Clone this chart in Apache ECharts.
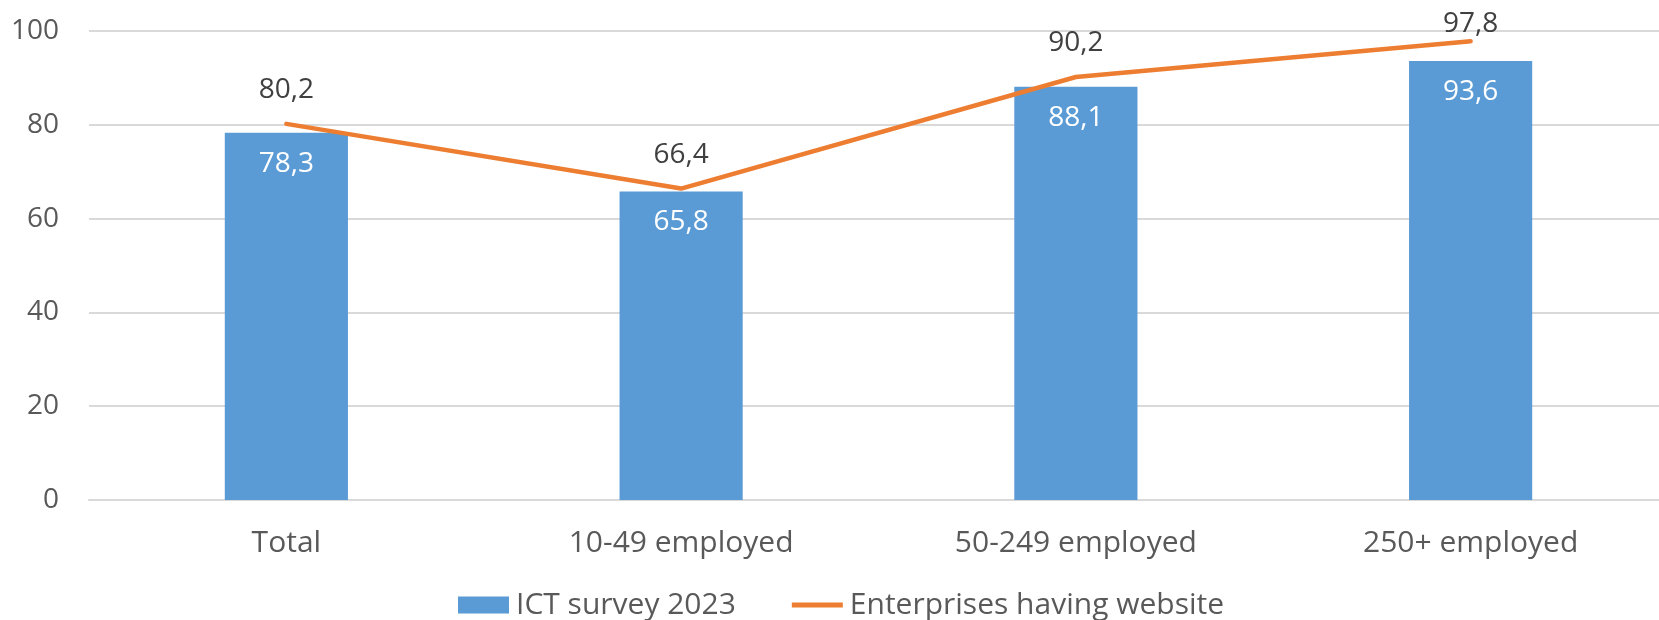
<!DOCTYPE html>
<html>
<head>
<meta charset="utf-8">
<script src="https://cdn.jsdelivr.net/npm/echarts@6/dist/echarts.min.js"></script>
<style>
html,body{margin:0;padding:0;background:#fff;}
#chart{width:1659px;height:620px;}
</style>
</head>
<body>
<div id="chart"></div>
<script>
const categories = ['Total', '10-49 employed', '50-249 employed', '250+ employed'];
const ictSurvey = [78.3, 65.8, 88.1, 93.6];
const websiteShare = [80.2, 66.4, 90.2, 97.8];
const yTicks = [0, 20, 40, 60, 80, 100];

const FONT = '"Open Sans", sans-serif';
const fmt = p => String(p.value).replace('.', ',');

const chart = echarts.init(document.getElementById('chart'), null, {renderer: 'canvas'});
chart.setOption({
  animation: false,
  textStyle: {fontFamily: FONT},
  grid: {left: 89, top: 31, width: 1579, height: 469, containLabel: false, outerBoundsMode: 'none'},
  legend: {
    left: 453, top: 585,
    itemWidth: 51, itemHeight: 17, itemGap: 56,
    textStyle: {fontFamily: FONT, fontSize: 30, color: '#595959', padding: [0, 0, 0, 2]},
    data: [
      {name: 'ICT survey 2023', icon: 'rect'},
      {name: 'Enterprises having website', icon: 'path://M0,0L52,0L52,5L0,5Z'}
    ]
  },
  xAxis: {
    type: 'category',
    data: categories,
    axisLine: {lineStyle: {color: '#d9d9d9', width: 2}},
    axisTick: {show: false},
    axisLabel: {fontFamily: FONT, fontSize: 30, color: '#595959', margin: 28}
  },
  yAxis: {
    type: 'value',
    min: yTicks[0], max: yTicks[yTicks.length - 1], interval: 20,
    axisLine: {show: false},
    axisTick: {show: false},
    splitLine: {lineStyle: {color: '#d9d9d9', width: 2}},
    axisLabel: {fontFamily: FONT, fontSize: 28, color: '#595959', margin: 30}
  },
  series: [
    {
      name: 'ICT survey 2023',
      type: 'bar',
      data: ictSurvey,
      barWidth: '31.2%',
      itemStyle: {color: '#5B9BD5'},
      label: {
        show: true, position: 'insideTop', distance: 17,
        fontFamily: FONT, fontSize: 28, color: '#ffffff', formatter: fmt
      }
    },
    {
      name: 'Enterprises having website',
      type: 'line',
      data: websiteShare.map((v, i) => i === websiteShare.length - 1
        ? {value: v, label: {distance: 3}}
        : v),
      symbol: 'circle',
      symbolSize: 0.01,
      lineStyle: {color: '#ED7D31', width: 4.5, cap: 'round'},
      itemStyle: {color: '#ED7D31'},
      label: {
        show: true, position: 'top', distance: 20,
        fontFamily: FONT, fontSize: 28, color: '#404040', formatter: fmt
      }
    }
  ]
});
</script>
</body>
</html>
